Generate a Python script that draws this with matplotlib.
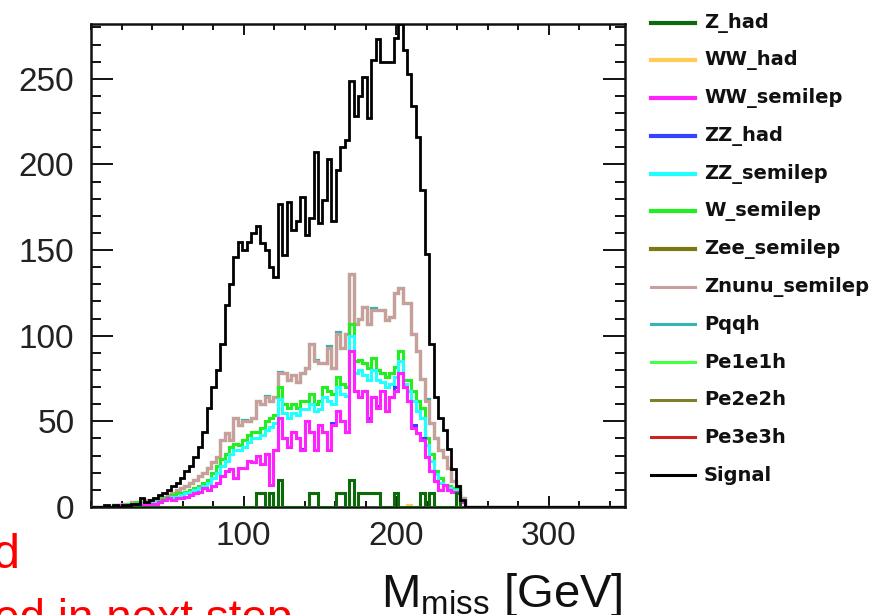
import numpy as np
import matplotlib
matplotlib.use("Agg")
import matplotlib.pyplot as plt
from matplotlib.lines import Line2D
from matplotlib.ticker import MultipleLocator

plt.rcParams['font.family'] = ['Liberation Sans', 'DejaVu Sans']
plt.rcParams['mathtext.default'] = 'regular'

# ---------------- data (bin contents, bins of 350/120 GeV starting at 0) ----------------
X_MIN, X_MAX, N_BINS = 0.0, 350.0, 120

signal = [0, 0, 0, 1, 0, 1, 0, 1, 1, 2,
          2, 5, 3, 4, 5, 7, 8, 10, 12, 14,
          17, 21, 24, 29, 35, 44, 58, 70, 80, 95,
          118, 130, 146, 155, 150, 155, 160, 164, 154, 150,
          140, 134, 177, 147, 178, 162, 167, 181, 159, 169,
          207, 166, 179, 203, 167, 197, 210, 214, 249, 228,
          240, 251, 227, 261, 273, 260, 260, 260, 274, 282,
          267, 253, 234, 216, 185, 148, 95, 64, 52, 45,
          34, 22, 12, 4, 0]

z_had = [0] * 30 + [0, 0, 0, 0, 0, 0, 0, 8, 8, 0,
                    8, 0, 16, 0, 0, 0, 0, 0, 0, 8,
                    8, 0, 0, 0, 0, 8, 8, 0, 16, 0,
                    8, 8, 8, 8, 8, 0, 0, 0, 8, 0,
                    0, 0, 0, 0, 8, 0, 8, 0, 0, 0,
                    0, 0, 8, 0, 0]

ww_had = [0] * 71 + [1] + [0] * 13

ww_semilep = [0, 0, 0, 0, 0, 0, 1, 0, 1, 1,
              2, 1, 2, 2, 2, 3, 4, 5, 4, 5,
              5, 6, 7, 8, 9, 11, 10, 12, 14, 18,
              21, 22, 17, 23, 23, 27, 26, 22, 17, 31,
              5, 33, 36, 40, 35, 44, 40, 33, 50, 36,
              25, 48, 44, 33, 48, 48, 42, 44, 75, 68,
              56, 60, 42, 56, 50, 68, 56, 64, 60, 78,
              70, 61, 46, 43, 31, 29, 13, 15, 10, 13,
              10, 9, 1, 3, 0]

zz_had = [0] * 47 + [1, 0, 0, 0, 0, 0, 0, 1, 0, 0, 0, 0, 0, 0, 0, 2, 0, 1,
                     0, 0, 0, 2, 0, 0, 0, 2, 0, 1] + [0] * 10

zz_semilep = [0, 0, 0, 0, 0, 1, 0, 1, 0, 1,
              0, 1, 0, 0, 1, 0, 0, 0, 2, 1,
              2, 2, 2, 2, 2, 1, 4, 5, 6, 6,
              6, 9, 16, 10, 12, 11, 14, 10, 17, 14,
              34, 16, 11, 15, 17, 11, 14, 23, 7, 16,
              23, 9, 20, 29, 11, 14, 16, 21, 9, 10,
              16, 9, 22, 16, 15, 5, 14, 8, 6, 7,
              2, 6, 14, 13, 12, 7, 6, 4, 4, 0,
              1, 1, 1, 1, 0]

w_semilep = [0, 0, 0, 0, 0, 0, 0, 0, 1, 0,
             1, 0, 1, 1, 0, 1, 1, 1, 1, 2,
             1, 1, 1, 1, 1, 2, 2, 3, 4, 4,
             4, 4, 4, 3, 4, 4, 4, 4, 4, 5,
             5, 5, 7, 5, 6, 5, 4, 5, 5, 6,
             4, 5, 6, 6, 6, 6, 6, 5, 7, 7,
             6, 7, 7, 7, 6, 5, 6, 6, 6, 6,
             2, 6, 6, 6, 6, 4, 4, 2, 3, 0,
             1, 1, 1, 0, 0]

zee_semilep = [0] * 85

znunu_semilep = [0, 0, 0, 0, 0, 0, 0, 1, 0, 1,
                 0, 1, 1, 1, 1, 1, 1, 1, 1, 2,
                 3, 3, 4, 5, 6, 6, 7, 6, 5, 11,
                 12, 4, 15, 12, 11, 8, 8, 18, 14, 14,
                 10, 10, 8, 18, 16, 17, 15, 16, 19, 29,
                 25, 22, 14, 25, 15, 25, 21, 31, 29, 22,
                 24, 33, 26, 28, 35, 37, 33, 33, 43, 37,
                 45, 45, 33, 29, 17, 22, 18, 19, 16, 16,
                 11, 4, 1, 1, 0]

pqqh = [0] * 34 + [1, 0, 0, 0, 0, 1, 0, 0, 1, 0, 0, 0, 0, 0, 0, 0,
                   1, 0, 0, 1, 0, 1, 0, 0, 0, 0, 0, 0, 0, 1, 0, 0,
                   0, 0, 0, 0, 0, 0, 0, 0, 0, 1] + [0] * 9
pe1e1h = [0] * 85
pe2e2h = [0] * 85
pe3e3h = [0] * 85

process_names = ["Z_had", "WW_had", "WW_semilep", "ZZ_had", "ZZ_semilep", "W_semilep",
                 "Zee_semilep", "Znunu_semilep", "Pqqh", "Pe1e1h", "Pe2e2h", "Pe3e3h"]
process_values = [z_had, ww_had, ww_semilep, zz_had, zz_semilep, w_semilep,
                  zee_semilep, znunu_semilep, pqqh, pe1e1h, pe2e2h, pe3e3h]
process_colors = ["#0b6b0b", "#ffcc55", "#ff22ff", "#3344ff", "#22ffff", "#22ee22",
                  "#7a7a10", "#c89f9a", "#33b5b5", "#44ff44", "#80802a", "#cc2222"]
signal_color = "#000000"


def full(vals):
    v = np.asarray(vals, dtype=float)
    return np.concatenate([v, np.zeros(N_BINS - len(v))])


edges = np.linspace(X_MIN, X_MAX, N_BINS + 1)

# ---------------- figure ----------------
W, H = 875, 615
fig = plt.figure(figsize=(W / 100, H / 100), dpi=100)
ax_l, ax_r, ax_t, ax_b = 91, 625, 24, 507
ax = fig.add_axes([ax_l / W, 1 - ax_b / H, (ax_r - ax_l) / W, (ax_b - ax_t) / H])

stack = np.cumsum(np.vstack([full(v) for v in process_values]), axis=0)
n = len(process_values)
for i in range(n - 1, -1, -1):
    ax.stairs(stack[i], edges, color=process_colors[i], lw=2.2,
              zorder=3 + (n - i) * 0.1)
ax.stairs(full(signal), edges, color=signal_color, lw=2.0, zorder=5)

ax.set_xlim(X_MIN, X_MAX)
ax.set_ylim(0, 282)
ax.set_xticks([100, 200, 300])
ax.xaxis.set_minor_locator(MultipleLocator(20))
ax.set_yticks([0, 50, 100, 150, 200, 250])
ax.yaxis.set_minor_locator(MultipleLocator(10))
ax.tick_params(which='both', direction='in', top=True, right=True, width=1.4,
               colors='#111111', labelsize=24)
ax.tick_params(axis='y', which='major', length=16, pad=12)
ax.tick_params(axis='y', which='minor', length=7)
ax.tick_params(axis='x', which='major', length=8, pad=10)
ax.tick_params(axis='x', which='minor', length=4)
for lab in ax.get_xticklabels() + ax.get_yticklabels():
    lab.set_color('#222222')
for s in ax.spines.values():
    s.set_linewidth(1.8)
    s.set_color('#111111')

# axis title
fig.text(623 / W, (H - 607) / H, r"M$_{miss}$ [GeV]", ha='right', va='baseline',
         fontsize=34, color='#111111')

# legend (drawn outside the axes, right side)
leg_names = process_names + ["Signal"]
leg_colors = process_colors + [signal_color]
leg_lw = [3.0] * 7 + [2.2] * 6
for i, (name, col) in enumerate(zip(leg_names, leg_colors)):
    y = 1 - (22.7 + 37.7 * i) / H
    fig.add_artist(Line2D([651 / W, 695 / W], [y, y], transform=fig.transFigure,
                          color=col, lw=leg_lw[i]))
    fig.text(704 / W, y, name, va='center', ha='left', fontsize=14,
             fontweight='bold', family=['DejaVu Sans'], color='#111111')

# partially visible red slide text (cut by the screenshot edges, as in the reference)
fig.text(20 / W, (H - 568) / H, "d", ha='right', va='baseline', fontsize=35, color='#ff0000')
fig.text(-6 / W, (H - 632) / H, "ed in next step", ha='left', va='baseline',
         fontsize=33, color='#ff0000')

fig.savefig("out.png", dpi=100)
